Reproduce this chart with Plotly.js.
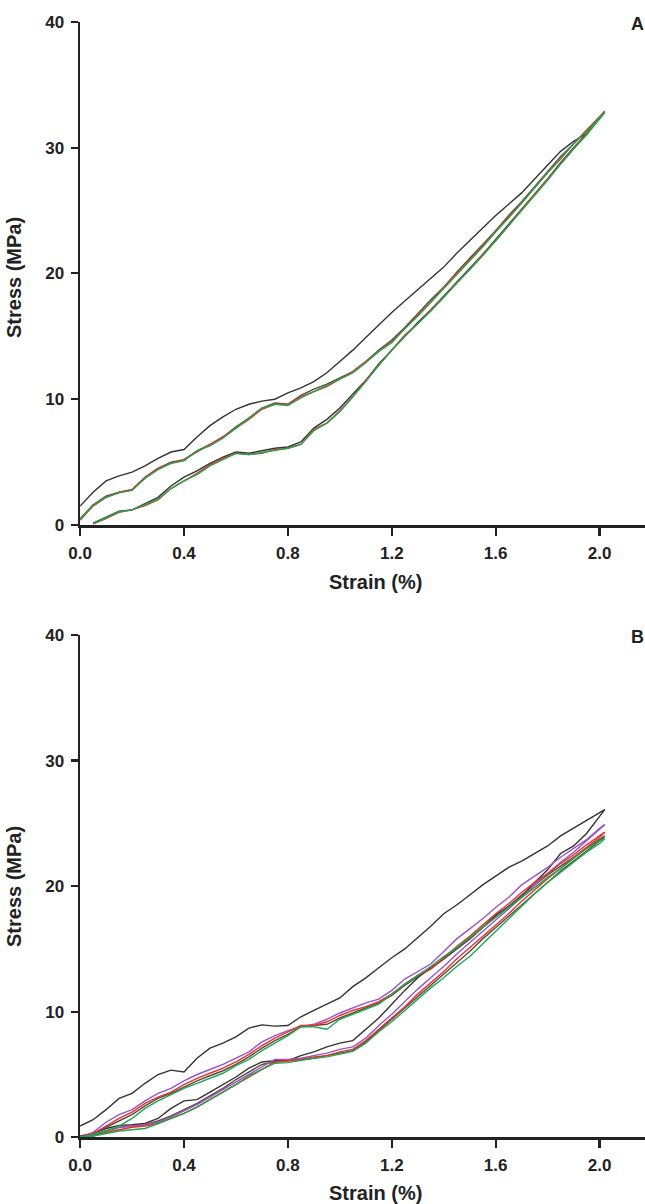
<!DOCTYPE html>
<html>
<head>
<meta charset="utf-8">
<script src="https://cdn.plot.ly/plotly-3.0.1.min.js"></script>
<style>
html,body{margin:0;padding:0;background:#fff;overflow:hidden;}
#chart{width:645px;height:1204px;}
</style>
</head>
<body>
<div id="chart"></div>
<script>
// Strain grid (%)
const strain = [0,0.05,0.1,0.15,0.2,0.25,0.3,0.35,0.4,0.45,0.5,0.55,0.6,0.65,0.7,0.75,0.8,0.85,0.9,0.95,1,1.05,1.1,1.15,1.2,1.25,1.3,1.35,1.4,1.45,1.5,1.55,1.6,1.65,1.7,1.75,1.8,1.85,1.9,1.95,2,2.02];

// Panel A stress (MPa)
const A_black_up = [1.5,2.6,3.5,3.9,4.2,4.7,5.3,5.8,6.0,7.0,7.9,8.6,9.2,9.6,9.85,10.0,10.5,10.9,11.4,12.1,13.0,13.9,14.9,15.9,16.9,17.8,18.7,19.6,20.5,21.6,22.6,23.6,24.6,25.5,26.4,27.5,28.6,29.7,30.5,31.1,32.3,32.8];
const A_black_lo = [null,0.15,0.6,1.1,1.2,1.7,2.2,3.1,3.8,4.3,4.9,5.4,5.8,5.7,5.9,6.1,6.2,6.6,7.7,8.4,9.3,10.4,11.5,12.8,13.9,15.0,16.1,17.1,18.2,19.3,20.4,21.5,22.7,23.9,25.1,26.3,27.5,28.8,30.0,31.1,32.4,32.8];
const A_dark_up = [0.5,1.6,2.3,2.6,2.8,3.8,4.5,5.0,5.2,5.9,6.4,7.0,7.8,8.5,9.3,9.7,9.6,10.3,10.8,11.2,11.7,12.2,13.0,13.9,14.7,15.7,16.8,17.9,18.9,20.1,21.2,22.3,23.4,24.6,25.7,26.9,28.1,29.3,30.3,31.3,32.4,32.8];
const A_red_up = [0.4,1.5,2.2,2.6,2.8,3.8,4.5,4.9,5.2,5.8,6.4,7.0,7.7,8.4,9.2,9.6,9.6,10.2,10.6,11.0,11.6,12.2,13.0,13.8,14.6,15.6,16.7,17.7,18.9,20.0,21.1,22.2,23.3,24.5,25.6,26.8,28.0,29.1,30.3,31.4,32.5,32.9];
const A_red_lo = [null,0.1,0.5,1.0,1.2,1.55,2.0,2.9,3.5,4.1,4.8,5.3,5.7,5.6,5.7,6.0,6.1,6.4,7.6,8.1,9.1,10.2,11.5,12.7,13.9,15.1,16.0,17.1,18.1,19.3,20.3,21.5,22.6,23.8,25.1,26.3,27.5,28.7,29.9,31.1,32.4,32.9];
const A_green_up = [0.4,1.6,2.2,2.55,2.75,3.7,4.4,4.9,5.1,5.9,6.3,6.9,7.7,8.5,9.3,9.6,9.5,10.1,10.6,11.1,11.6,12.1,12.9,13.8,14.5,15.6,16.6,17.7,18.8,19.9,21.0,22.1,23.3,24.4,25.6,26.8,28.0,29.2,30.3,31.3,32.4,32.8];
const A_green_lo = [null,0.1,0.55,1.05,1.2,1.6,2.05,2.9,3.5,4.0,4.7,5.2,5.7,5.6,5.75,5.95,6.1,6.4,7.5,8.1,9.0,10.2,11.4,12.7,13.9,15.0,16.0,17.0,18.1,19.2,20.3,21.4,22.6,23.8,25.0,26.2,27.4,28.7,29.9,31.0,32.3,32.8];

// Panel B stress (MPa)
const B_black_up = [0.9,1.4,2.2,3.1,3.5,4.3,5.0,5.35,5.2,6.3,7.1,7.5,8.0,8.7,8.95,8.85,8.9,9.6,10.1,10.6,11.1,12.0,12.7,13.5,14.3,15.0,15.9,16.8,17.8,18.5,19.3,20.1,20.8,21.5,22.0,22.6,23.2,24.0,24.6,25.2,25.8,26.1];
const B_black_lo = [0.1,0.3,0.7,0.95,1.0,1.1,1.5,2.3,2.9,3.0,3.6,4.2,4.8,5.5,6.0,6.1,6.1,6.5,6.8,7.2,7.5,7.7,8.6,9.5,10.6,11.7,12.7,13.5,14.2,15.0,15.8,16.7,17.7,18.4,19.2,20.3,21.3,22.6,23.2,24.2,25.6,26.1];
const B_dark_up = [0,0.3,0.8,1.3,1.8,2.5,3.1,3.5,4.0,4.5,4.9,5.3,5.8,6.4,7.1,7.7,8.2,8.8,8.9,9.0,9.5,9.9,10.3,10.7,11.3,12.1,12.8,13.4,14.2,15.0,15.8,16.7,17.6,18.4,19.3,20.1,20.9,21.6,22.3,23.0,23.7,24.0];
const B_dark_lo = [0,0.2,0.5,0.8,0.9,1.0,1.3,1.7,2.2,2.7,3.3,3.9,4.6,5.2,5.8,6.0,6.1,6.2,6.3,6.5,6.7,6.9,7.6,8.5,9.4,10.3,11.2,12.1,13.0,13.9,14.8,15.8,16.7,17.6,18.5,19.4,20.3,21.2,22.0,22.8,23.6,24.0];
const B_purple_up = [0,0.4,1.2,1.8,2.2,2.9,3.5,3.9,4.5,5.0,5.4,5.8,6.3,6.8,7.6,8.1,8.5,8.8,9.0,9.4,9.9,10.3,10.7,11.0,11.7,12.6,13.2,13.8,14.8,15.8,16.6,17.4,18.3,19.1,20.1,20.8,21.5,22.3,23.0,23.7,24.6,24.9];
const B_purple_lo = [0,0.2,0.5,0.8,0.9,1.0,1.2,1.6,2.1,2.6,3.2,3.8,4.4,5.0,5.6,6.2,6.2,6.3,6.5,6.7,7.0,7.2,7.9,8.9,9.8,10.8,11.8,12.7,13.6,14.6,15.5,16.4,17.3,18.2,19.1,20.1,21.0,21.9,22.7,23.6,24.5,24.9];
const B_red_up = [0,0.3,0.9,1.5,2.0,2.7,3.2,3.6,4.2,4.7,5.1,5.5,6.0,6.6,7.3,7.9,8.4,8.9,8.9,9.2,9.7,10.1,10.4,10.8,11.4,12.2,12.9,13.4,14.3,15.2,16.0,16.9,17.8,18.6,19.5,20.3,21.0,21.8,22.5,23.3,24.0,24.3];
const B_red_lo = [0,0.1,0.4,0.6,0.8,0.9,1.1,1.5,1.9,2.4,3.0,3.6,4.2,4.8,5.4,6.0,6.1,6.2,6.4,6.5,6.8,7.0,7.7,8.6,9.5,10.4,11.4,12.3,13.2,14.2,15.1,16.0,16.9,17.8,18.8,19.7,20.6,21.4,22.3,23.1,23.9,24.3];
const B_green_up = [0,0.2,0.5,0.9,1.5,2.3,2.9,3.4,3.9,4.3,4.7,5.1,5.7,6.2,6.9,7.5,8.1,8.8,8.8,8.6,9.4,9.8,10.2,10.6,11.4,12.2,12.9,13.6,14.4,15.1,15.9,16.7,17.5,18.3,19.1,19.9,20.7,21.4,22.2,23.0,23.6,23.8];
const B_green_lo = [0,0.1,0.3,0.5,0.6,0.7,1.1,1.5,1.9,2.4,3.0,3.6,4.2,4.9,5.4,5.9,5.95,6.15,6.3,6.4,6.6,6.85,7.5,8.4,9.2,10.1,11.0,11.9,12.7,13.6,14.4,15.4,16.4,17.4,18.4,19.4,20.3,21.1,21.9,22.7,23.4,23.8];

const COL = {black:'#333333', dark:'#5a4a40', purple:'#9a55c4', red:'#e8302e', green:'#1fa64e'};

function tr(y, color, xa, ya) {
  return {x: strain, y: y, type: 'scatter', mode: 'lines', xaxis: xa, yaxis: ya,
          line: {color: color, width: 1.4}, connectgaps: false, hoverinfo: 'skip', showlegend: false};
}

const data = [
  tr(A_black_up, COL.black, 'x', 'y'), tr(A_black_lo, COL.black, 'x', 'y'),
  tr(A_dark_up, COL.dark, 'x', 'y'),
  tr(A_red_up, COL.red, 'x', 'y'), tr(A_red_lo, COL.red, 'x', 'y'),
  tr(A_green_up, COL.green, 'x', 'y'), tr(A_green_lo, COL.green, 'x', 'y'),

  tr(B_black_up, COL.black, 'x2', 'y2'), tr(B_black_lo, COL.black, 'x2', 'y2'),
  tr(B_dark_up, COL.dark, 'x2', 'y2'), tr(B_dark_lo, COL.dark, 'x2', 'y2'),
  tr(B_purple_up, COL.purple, 'x2', 'y2'), tr(B_purple_lo, COL.purple, 'x2', 'y2'),
  tr(B_red_up, COL.red, 'x2', 'y2'), tr(B_red_lo, COL.red, 'x2', 'y2'),
  tr(B_green_up, COL.green, 'x2', 'y2'), tr(B_green_lo, COL.green, 'x2', 'y2')
];

const FONT = 'Liberation Sans, Arial, Helvetica, sans-serif';
const tickF = {family: FONT, size: 17, color: '#222', weight: 'bold'};

function xax(anchor) {
  return {domain: [80.1/645, 1], range: [0, 2.175], anchor: anchor,
    tickvals: [0, 0.4, 0.8, 1.2, 1.6, 2.0], ticktext: ['0.0','0.4','0.8','1.2','1.6','2.0'],
    showline: true, linecolor: '#222', linewidth: 2.6, ticks: 'outside', ticklen: 8, tickwidth: 2.2,
    tickcolor: '#222', showgrid: false, zeroline: false, tickfont: tickF, ticklabelstandoff: 3, fixedrange: true};
}
function yax(anchor, dom) {
  return {domain: dom, range: [0, 40], anchor: anchor, tickvals: [0,10,20,30,40],
    showline: true, linecolor: '#222', linewidth: 2.6, ticks: 'outside', ticklen: 7, tickwidth: 2.2,
    tickcolor: '#222', showgrid: false, zeroline: false, tickfont: tickF, ticklabelstandoff: 3, fixedrange: true};
}

const titleF = {family: FONT, size: 20, color: '#222', weight: 'bold'};
const layout = {
  width: 645, height: 1204,
  margin: {l: 0, r: 0, t: 0, b: 0},
  paper_bgcolor: '#fff', plot_bgcolor: 'rgba(0,0,0,0)',
  xaxis: xax('y'),
  yaxis: yax('x', [(1204-525)/1204, (1204-21.8)/1204]),
  xaxis2: xax('y2'),
  yaxis2: yax('x2', [(1204-1137.3)/1204, (1204-635)/1204]),
  annotations: [
    {text: 'Strain (%)', x: 375/645, y: (1204-582)/1204, xref: 'paper', yref: 'paper', showarrow: false, font: titleF, xanchor: 'center', yanchor: 'middle'},
    {text: 'Strain (%)', x: 375/645, y: (1204-1193)/1204, xref: 'paper', yref: 'paper', showarrow: false, font: titleF, xanchor: 'center', yanchor: 'middle'},
    {text: 'Stress (MPa)', x: 14/645, y: (1204-278)/1204, xref: 'paper', yref: 'paper', showarrow: false, font: titleF, textangle: -90, xanchor: 'center', yanchor: 'middle'},
    {text: 'Stress (MPa)', x: 14/645, y: (1204-887)/1204, xref: 'paper', yref: 'paper', showarrow: false, font: titleF, textangle: -90, xanchor: 'center', yanchor: 'middle'},
    {text: 'A', x: 629/645, y: (1204-24)/1204, xref: 'paper', yref: 'paper', showarrow: false, font: {family: FONT, size: 18, color: '#222', weight: 'bold'}, xanchor: 'left', yanchor: 'middle'},
    {text: 'B', x: 629/645, y: (1204-637)/1204, xref: 'paper', yref: 'paper', showarrow: false, font: {family: FONT, size: 18, color: '#222', weight: 'bold'}, xanchor: 'left', yanchor: 'middle'}
  ]
};

Plotly.newPlot('chart', data, layout, {displayModeBar: false, staticPlot: true});
</script>
</body>
</html>
